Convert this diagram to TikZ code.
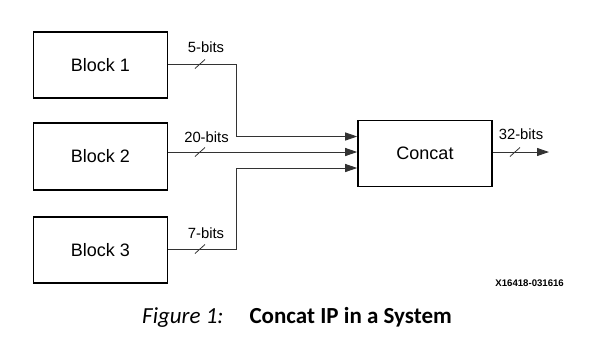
\documentclass[tikz,border=0pt]{standalone}
\usepackage{fontspec}
\setmainfont{Liberation Sans}
\newfontfamily\capfont{Carlito}
\usetikzlibrary{arrows.meta,positioning}

\begin{document}
\begin{tikzpicture}
  [
    x=1pt, y=-1pt,
    Block/.style={rectangle, draw=black, line width=1.6pt, minimum width=134pt, minimum height=66pt, font=\fontsize{18}{21}\selectfont, inner sep=0pt},
    Wire/.style={draw=black!80, line width=0.9pt},
    Bus/.style={Wire, -{Triangle[length=12pt, width=8pt]}},
    Slash/.style={draw=black!80, line width=0.8pt},
    Width/.style={font=\fontsize{14.8}{17}\selectfont, inner sep=0pt, anchor=base}
  ]
  \useasboundingbox (0,0) rectangle (595,357);

  % Nodes
  \node[Block] (b1) at (100.5, 65) {Block 1};
  \node[Block, minimum height=67pt] (b2) at (100.5, 156.5) {Block 2};
  \node[Block] (b3) at (100.5, 250) {Block 3};
  \node[Block] (cc) at (425, 153.5) {Concat};

  % Corners and ends
  \coordinate (j1) at (236, 136.5);
  \coordinate (j3) at (236, 168);
  \coordinate (out) at (549, 152);

  % Lines
  \path [Bus] (b1.east |- 0,64) -| (j1) -- (cc.west |- j1);
  \path [Bus] (b2.east |- 0,152) -- (cc.west |- 0,152);
  \path [Bus] (b3.east |- 0,249) -| (j3) -- (cc.west |- j3);
  \path [Bus] (cc.east |- out) -- (out);

  % Bus widths
  \draw [Slash] (200,64) ++(-5,4.5) -- ++(10,-9);
  \draw [Slash] (200,152) ++(-5,4.5) -- ++(10,-9);
  \draw [Slash] (200,249) ++(-5,4.5) -- ++(10,-9);
  \draw [Slash] (515,152) ++(-5,4.5) -- ++(10,-9);
  \node[Width] (w1) at (206, 52) {5-bits};
  \node[Width] (w2) at (206.5, 142) {20-bits};
  \node[Width] (w3) at (206, 238) {7-bits};
  \node[Width] (w4) at (521, 139) {32-bits};

  % Figure number and caption
  \node[font=\fontsize{9.6}{11}\selectfont\bfseries, anchor=base east, inner sep=0pt] (id) at (564, 286) {X16418-031616};
  \node[font=\capfont\fontsize{23}{26}\selectfont, anchor=base west, inner sep=0pt] (cap) at (142, 323)
    {\textit{Figure 1:}\hspace{26pt}\textbf{Concat IP in a System}};
\end{tikzpicture}
\end{document}
